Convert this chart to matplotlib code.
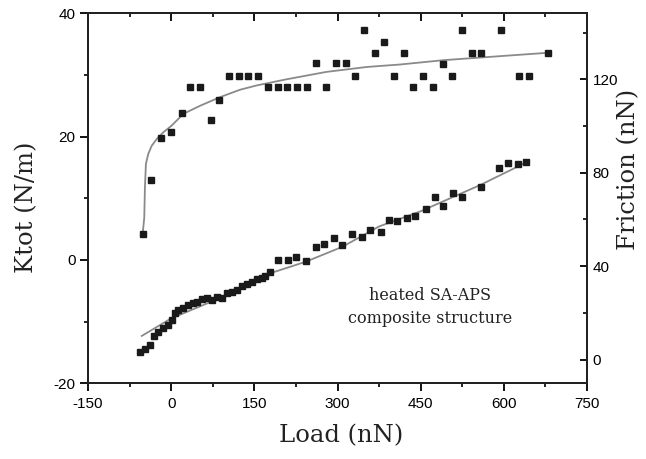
import numpy as np
import matplotlib
matplotlib.use('Agg')
import matplotlib.pyplot as plt
from matplotlib.ticker import MultipleLocator

plt.rcParams['axes.unicode_minus'] = False
plt.rcParams['font.family'] = ['Liberation Sans', 'DejaVu Sans']

# ---- data ----
# Ktot (left axis), squares
load_k = [-51, -37, -18, 0, 19, 34, 52, 71, 86, 105, 123, 139, 157, 175, 193,
          209, 227, 245, 262, 279, 297, 315, 332, 348, 368, 383, 401, 420, 437,
          454, 472, 490, 506, 524, 542, 558, 594, 627, 645, 679]
ktot = [4.2, 13.0, 19.7, 20.8, 23.8, 28.0, 28.0, 22.7, 26.0, 29.9, 29.9, 29.9,
        29.9, 28.0, 28.0, 28.0, 28.0, 28.0, 31.9, 28.0, 31.9, 31.9, 29.9, 37.3,
        33.6, 35.4, 29.9, 33.6, 28.0, 29.9, 28.0, 31.8, 29.9, 37.3, 33.6, 33.6,
        37.3, 29.9, 29.9, 33.6]
# Ktot fit curve
load_kfit = [-51.4, -48.5, -47.3, -45.5, -41.3, -35.2, -26.2, -14.2, 1, 22, 52,
             88, 124, 154, 208, 280, 353, 413, 491, 679]
ktot_fit = [4.2, 6.9, 11.8, 15.6, 17.2, 18.5, 19.6, 20.7, 21.8, 23.7, 25.0,
            26.4, 27.6, 28.3, 29.3, 30.5, 31.3, 31.7, 32.4, 33.6]

# Friction (right axis), squares
load_f = [-56, -47, -38, -31, -23, -14, -5, 1, 7, 13, 22, 31, 40, 46, 55, 64,
          73, 82, 91, 100, 109, 118, 127, 136, 145, 154, 163, 169, 178, 193,
          211, 226, 243, 261, 276, 294, 309, 327, 344, 359, 378, 392, 408, 425,
          440, 460, 475, 491, 509, 524, 558, 591, 607, 625, 640]
friction = [3.4, 4.3, 6.2, 10.1, 11.9, 13.4, 14.8, 16.9, 19.8, 21.2, 21.9, 23.3,
            24.1, 24.8, 25.8, 26.2, 25.5, 26.9, 26.2, 28.4, 29.0, 29.8, 31.3,
            32.3, 33.4, 34.3, 34.8, 35.8, 37.6, 42.6, 42.6, 44.0, 42.3, 48.3,
            49.5, 52.0, 48.9, 53.6, 52.6, 55.5, 54.7, 59.6, 59.2, 60.5, 61.5,
            64.3, 69.5, 65.7, 71.2, 69.5, 74.0, 82.0, 84.2, 83.9, 84.7]
# Friction fit line
load_ffit = [-53, 0, 100, 178, 243, 309, 375, 450, 557, 641]
friction_fit = [10.1, 17.6, 27.5, 36.9, 41.9, 48.3, 57.0, 63.5, 74.7, 84.5]

# ---- figure ----
fig = plt.figure(figsize=(6.46, 4.59), dpi=100)
ax = fig.add_axes([0.1362, 0.1649, 0.7725, 0.8061])
ax2 = ax.twinx()

ax.plot(load_kfit, ktot_fit, color='#8a8a8a', lw=1.3, zorder=2)
ax.plot(load_k, ktot, 's', color='#1a1a1a', ms=5, zorder=3)
ax2.plot(load_ffit, friction_fit, color='#8a8a8a', lw=1.3, zorder=2)
ax2.plot(load_f, friction, 's', color='#1a1a1a', ms=5, zorder=3)

ax.set_xlim(-150, 750)
ax.set_ylim(-20, 40)
ax2.set_ylim(-10.2, 148.3)

ax.xaxis.set_major_locator(MultipleLocator(150))
ax.xaxis.set_minor_locator(MultipleLocator(75))
ax.yaxis.set_major_locator(MultipleLocator(20))
ax.yaxis.set_minor_locator(MultipleLocator(10))
ax2.yaxis.set_major_locator(MultipleLocator(40))
ax2.yaxis.set_minor_locator(MultipleLocator(20))

for a in (ax, ax2):
    for s in a.spines.values():
        s.set_linewidth(1.4)
        s.set_color('#222222')

ax.tick_params(axis='x', which='major', direction='out', length=6, width=1.3,
               labelsize=11, pad=4, top=True)
ax.tick_params(axis='x', which='minor', direction='out', length=3, width=1.2,
               top=True)
ax.tick_params(axis='x', which='both', labeltop=False)
ax.tick_params(axis='y', which='major', direction='out', length=6, width=1.3,
               labelsize=11, pad=3)
ax.tick_params(axis='y', which='minor', direction='out', length=3, width=1.2)
ax2.tick_params(axis='y', which='major', direction='in', length=5, width=1.3,
                labelsize=11, pad=4)
ax2.tick_params(axis='y', which='minor', direction='in', length=3, width=1.2)

# top ticks point inward
for t in ax.xaxis.get_major_ticks() + ax.xaxis.get_minor_ticks():
    t.tick2line.set_marker(matplotlib.markers.TICKDOWN)

lab = dict(family='DejaVu Serif', fontsize=17.5, color='#222222')
ax.set_xlabel('Load (nN)', **lab)
ax.set_ylabel('Ktot (N/m)', **lab)
ax2.set_ylabel('Friction (nN)', **lab)
ax.xaxis.set_label_coords(0.507, -0.11)
ax.yaxis.set_label_coords(-0.10, 0.476)
ax2.yaxis.set_label_coords(1.060, 0.579)

ax.text(467, -7.6, 'heated SA-APS\ncomposite structure', ha='center',
        va='center', family='DejaVu Serif', fontsize=11.5, linespacing=1.45,
        color='#222222')

fig.savefig('out.png', dpi=100)
